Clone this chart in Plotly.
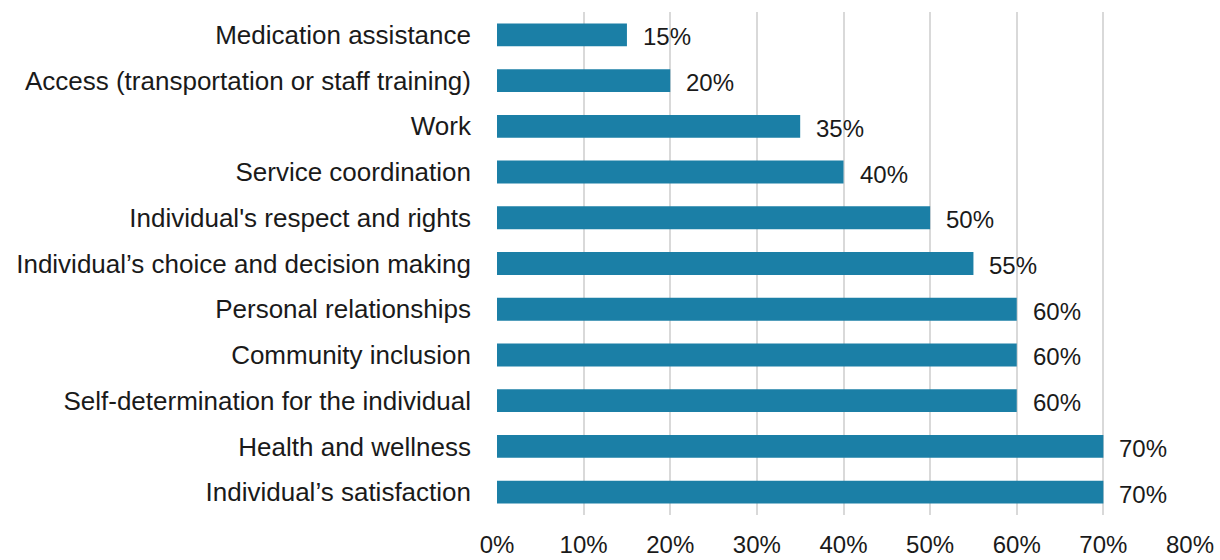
import plotly.graph_objects as go

# Share of respondents by focus area (top to bottom as displayed)
categories = [
    "Medication assistance",
    "Access (transportation or staff training)",
    "Work",
    "Service coordination",
    "Individual's respect and rights",
    "Individual\u2019s choice and decision making",
    "Personal relationships",
    "Community inclusion",
    "Self-determination for the individual",
    "Health and wellness",
    "Individual\u2019s satisfaction",
]
values = [15, 20, 35, 40, 50, 55, 60, 60, 60, 70, 70]
x_ticks = [0, 10, 20, 30, 40, 50, 60, 70, 80]
x_tick_labels = [f"{t}%" for t in x_ticks]

BAR_COLOR = "#1b7fa6"
TEXT_COLOR = "#1a1a1a"
FONT = "Liberation Sans, Arial, sans-serif"
LABEL_FS = 26   # category names
NUM_FS = 24     # percentages

fig = go.Figure(
    go.Bar(
        x=values,
        y=categories,
        orientation="h",
        marker=dict(color=BAR_COLOR, line=dict(width=0)),
        hoverinfo="skip",
    )
)

# Value labels to the right of each bar
for cat, val in zip(categories, values):
    fig.add_annotation(
        x=val, y=cat, text=f"{val}%", showarrow=False,
        xanchor="left", xshift=14, yshift=-2,
        font=dict(family=FONT, size=NUM_FS, color=TEXT_COLOR),
    )

fig.update_layout(
    width=1220, height=560,
    margin=dict(l=497, r=30, t=12, b=45, autoexpand=False),
    paper_bgcolor="white", plot_bgcolor="white",
    bargap=0.5,
    showlegend=False,
    font=dict(family=FONT, size=NUM_FS, color=TEXT_COLOR),
)
fig.update_xaxes(
    range=[0, 80], tickvals=x_ticks, ticktext=x_tick_labels,
    showgrid=True, gridcolor="#d9d9d9", gridwidth=2,
    zeroline=False, showline=False, ticks="",
    automargin=False,
    ticklabelstandoff=13,
    tickfont=dict(family=FONT, size=NUM_FS, color=TEXT_COLOR),
)
fig.update_yaxes(
    categoryorder="array", categoryarray=categories[::-1],
    showgrid=False, zeroline=False, showline=False, ticks="",
    automargin=False,
    ticklabelstandoff=25,
    tickfont=dict(family=FONT, size=LABEL_FS, color=TEXT_COLOR),
)

fig.write_html("out.html")
